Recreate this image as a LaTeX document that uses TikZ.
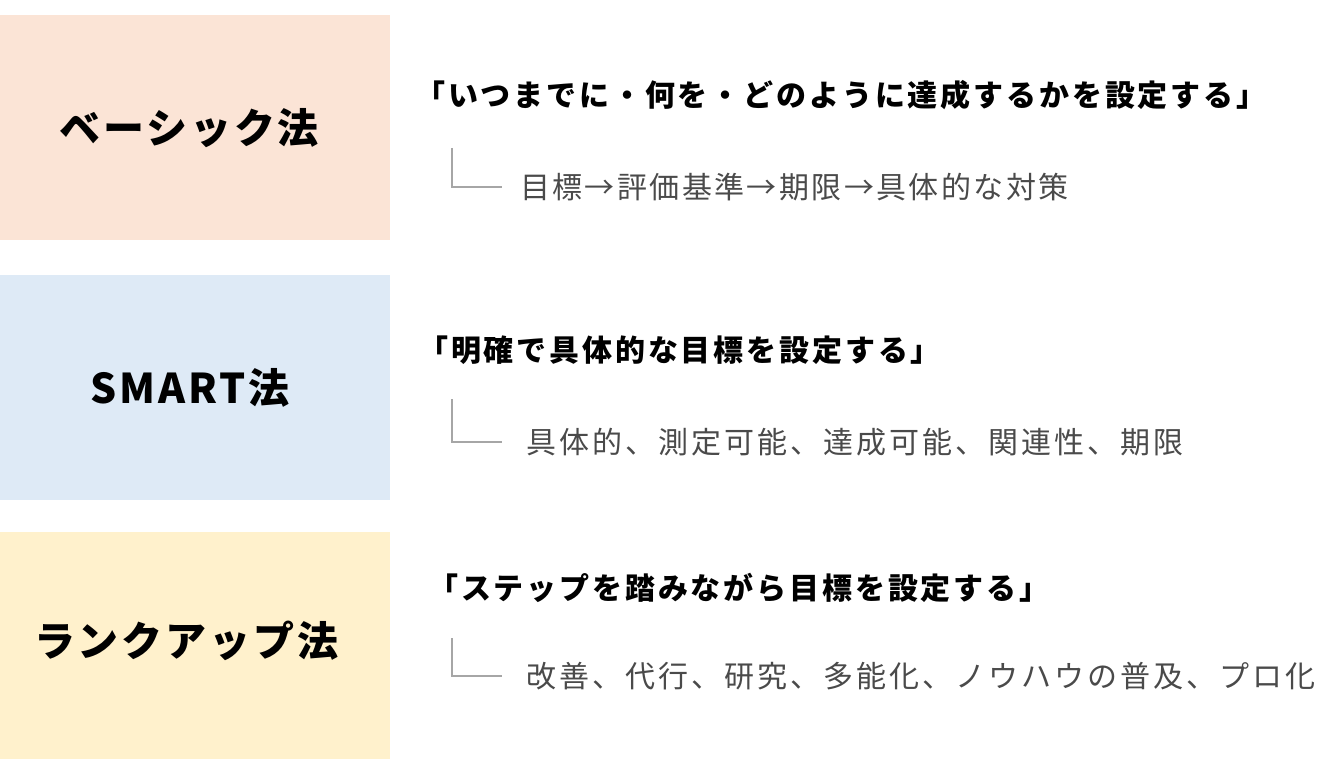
\documentclass[tikz,border=0pt]{standalone}
\usepackage{fontspec}
\setmainfont{Noto Sans CJK JP}
\usetikzlibrary{positioning}
\definecolor{basicpeach}{HTML}{FBE4D6}
\definecolor{smartblue}{HTML}{DEEAF6}
\definecolor{rankyellow}{HTML}{FFF1CC}
\definecolor{elbowgray}{HTML}{A6A6A6}
\definecolor{detailgray}{HTML}{4A4A4A}

\begin{document}
\begin{tikzpicture}[x=1pt, y=-1pt,
  methodbox/.style={rectangle, minimum width=390pt, minimum height=225pt, inner sep=0pt, anchor=north west},
  methodlabel/.style={inner sep=0pt, font=\fontsize{41}{48}\selectfont\bfseries\addfontfeature{LetterSpace=7}},
  goal/.style={anchor=west, inner sep=0pt, font=\fontsize{30}{36}\selectfont\bfseries\addfontfeature{LetterSpace=9.5}},
  detail/.style={anchor=west, inner sep=0pt, text=detailgray, font=\fontsize{30}{36}\selectfont\addfontfeature{LetterSpace=10}},
  elbow/.style={draw=elbowgray, line width=2.5pt}]
\useasboundingbox (0,0) rectangle (1320,767);
\node[methodbox, fill=basicpeach] (basic) at (0,15) {};
\node[methodbox, fill=smartblue] (smart) at (0,275) {};
\node[methodbox, fill=rankyellow, minimum height=227pt] (rankup) at (0,532) {};
\node[methodlabel] (basiclabel) at ([xshift=-6pt]basic.center) {ベーシック法};
\node[methodlabel] (smartlabel) at ([xshift=-5pt]smart.center) {SMART法};
\node[methodlabel] (rankuplabel) at ([xshift=-9pt,yshift=5pt]rankup.center) {ランクアップ法};
\node[goal] (basicgoal) at (415,95) {「いつまでに・何を・どのように達成するかを設定する」};
\node[goal] (smartgoal) at (418,350) {「明確で具体的な目標を設定する」};
\node[goal] (rankupgoal) at (428,588) {「ステップを踏みながら目標を設定する」};
\node[detail, font=\fontsize{30}{36}\selectfont\addfontfeature{LetterSpace=8}] (basicdetail) at (520,187) {目標→評価基準→期限→具体的な対策};
\node[detail] (smartdetail) at (526,442) {具体的、測定可能、達成可能、関連性、期限};
\node[detail] (rankupdetail) at (526,676) {改善、代行、研究、多能化、ノウハウの普及、プロ化};
\coordinate (basicbend) at (452,148);
\coordinate (smartbend) at (452,399);
\coordinate (rankupbend) at (452,638);
\draw[elbow] (basicbend) |- ([xshift=-18pt]basicdetail.west);
\draw[elbow] (smartbend) |- ([xshift=-24pt]smartdetail.west);
\draw[elbow] (rankupbend) |- ([xshift=-24pt]rankupdetail.west);
\end{tikzpicture}
\end{document}
